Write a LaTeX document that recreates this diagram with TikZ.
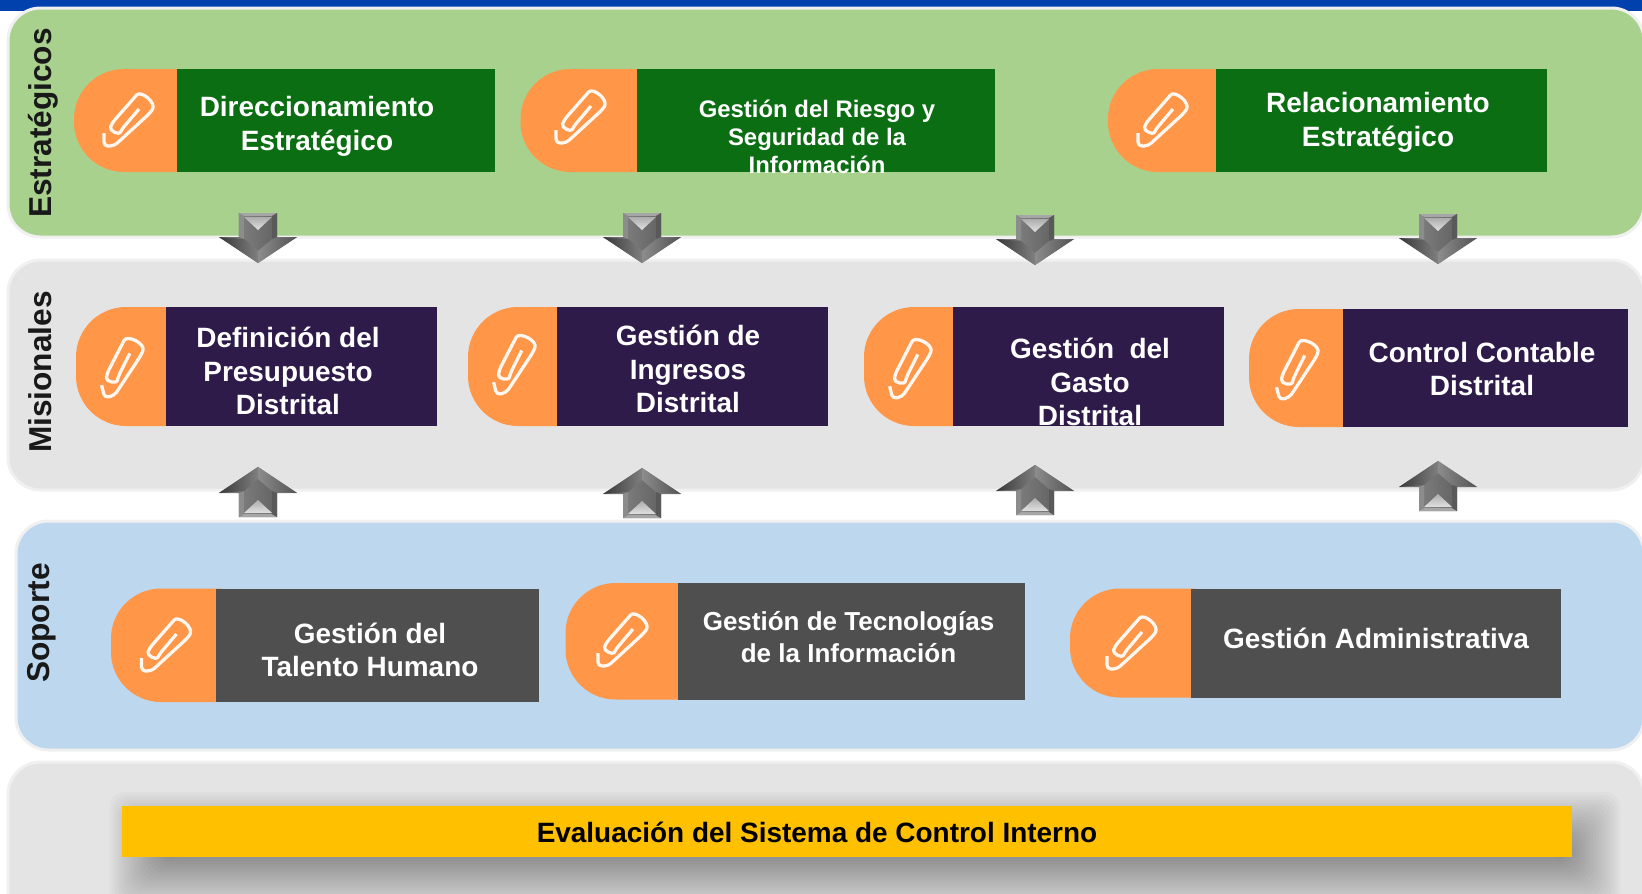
\documentclass[tikz,border=0pt]{standalone}
\usepackage{fontspec}
\setmainfont{Liberation Sans}
\usepackage{tikz}
\usetikzlibrary{positioning}
\definecolor{verdeP}{HTML}{A9D18E}
\definecolor{grisP}{HTML}{E4E4E4}
\definecolor{azulP}{HTML}{BDD7EE}
\definecolor{naranja}{HTML}{FF9648}
\definecolor{verdeC}{HTML}{0B6E12}
\definecolor{moradoC}{HTML}{2E1B4A}
\definecolor{grisC}{HTML}{4F4F4F}
\definecolor{amarillo}{HTML}{FFC000}
\definecolor{azulB}{HTML}{0041AE}
\tikzstyle{panel}=[draw=black!6, line width=0.6mm, rounded corners=0.65cm]
\tikzstyle{pill}=[rectangle, rounded corners=1cm, fill=naranja, inner sep=0pt]
\tikzstyle{box1}=[rectangle, fill=verdeC, inner sep=0pt]
\tikzstyle{box2}=[rectangle, fill=moradoC, inner sep=0pt]
\tikzstyle{box3}=[rectangle, fill=grisC, inner sep=0pt]
\tikzstyle{box4}=[rectangle, fill=amarillo, inner sep=0pt]
\tikzstyle{txt}=[text=white, align=center, inner sep=0pt, font=\bfseries\fontsize{15.9}{19.2}\selectfont]
\tikzstyle{side}=[rotate=90, text=black!90, inner sep=0pt, font=\bfseries\fontsize{18}{20}\selectfont]
\tikzset{
  clip icon/.pic={
    \draw[white!92!naranja, line width=0.65mm, line join=round, x=0.02cm, y=0.02cm, rounded corners=0.08cm]
      (-23,-12) -- (-23,-25) -- (-13,-25) -- (23,8)
      .. controls (30,18) and (14,31) .. (7,23)
      -- (-15,-2) .. controls (-18,-10) and (-8,-14) .. (-5,-8) -- (12,12);
  },
  block arrow/.pic={
    \begin{scope}[x=0.02cm, y=0.02cm]
    \fill[black!55] (-19,0) -- (19,0) -- (19,-24) -- (39,-24) -- (0,-50) -- (-39,-24) -- (-19,-24) -- cycle;
    \shade[left color=black!52, middle color=black!22, right color=black!60]
      (-14,-3) -- (14,-3) -- (14,-26) -- (0,-38) -- (-14,-26) -- cycle;
    \fill[black!35] (-19,0) -- (19,0) -- (14,-3) -- (-14,-3) -- cycle;
    \shade[top color=black!32, bottom color=black!12] (-14,-4) -- (14,-4) -- (0,-17) -- cycle;
    \fill[black!45] (-19,0) -- (-14,-3) -- (-14,-26) -- (-19,-24) -- cycle;
    \fill[black!65] (19,0) -- (14,-3) -- (14,-26) -- (19,-24) -- cycle;
    \shade[left color=black!78, right color=black!50] (-39,-24) -- (-14,-26) -- (0,-38) -- (0,-50) -- cycle;
    \shade[left color=black!45, right color=black!68] (39,-24) -- (14,-26) -- (0,-38) -- (0,-50) -- cycle;
    \end{scope}
  }
}
\begin{document}
\begin{tikzpicture}
\useasboundingbox (0,0) rectangle (32.84,-17.86);
\clip (0,0) rectangle (32.84,-17.86);
%Panels
\fill[azulB] (0,0) rectangle (32.84,-0.22);
\shade[left color=azulB, middle color=azulB!45!black, right color=azulB] (29.9,0) rectangle (31,-0.14);
\draw[panel, fill=verdeP] (0.16,-0.16) rectangle (32.88,-4.74);
\draw[panel, fill=grisP] (0.16,-5.2) rectangle (32.88,-9.8);
\draw[panel, fill=azulP] (0.32,-10.42) rectangle (32.88,-15);
\draw[panel, fill=grisP] (0.16,-15.24) rectangle (32.88,-18.6);
%Shadow
\foreach \i in {0,...,23}
  \fill[black, opacity=0.021, rounded corners=0.3cm] (2.85-0.66+\i*0.055,-16.5+0.66-\i*0.055) rectangle (31.75+0.66-\i*0.055,-17.55-0.66+\i*0.055);
%Row One
\node[side] (lab1) at (0.87,-2.46) {Estratégicos};
\node[pill, minimum width=3.06cm, minimum height=2.06cm] (p1) at (3.01,-2.41) {};
\node[box1, minimum width=6.36cm, minimum height=2.06cm] (b1) at (6.72,-2.41) {};
\node[txt] (t1) at (6.34,-2.52) {Direccionamiento\\Estratégico};
\pic at (2.54,-2.42) {clip icon};
\node[pill, minimum width=3.33cm, minimum height=2.06cm] (p2) at (12.075,-2.41) {};
\node[box1, minimum width=7.16cm, minimum height=2.06cm] (b2) at (16.32,-2.41) {};
\node[txt, font=\bfseries\fontsize{13.6}{16}\selectfont] (t2) at (16.34,-2.74) {Gestión del Riesgo y\\Seguridad de la\\Información};
\pic at (11.58,-2.36) {clip icon};
\node[pill, minimum width=3.16cm, minimum height=2.06cm] (p3) at (23.74,-2.41) {};
\node[box1, minimum width=6.62cm, minimum height=2.06cm] (b3) at (27.63,-2.41) {};
\node[txt] (t3) at (27.56,-2.44) {Relacionamiento\\Estratégico};
\pic at (23.22,-2.42) {clip icon};
%Row Two
\node[side] (lab2) at (0.81,-7.44) {Misionales};
\node[pill, minimum width=2.79cm, minimum height=2.38cm] (p4) at (2.915,-7.33) {};
\node[box2, minimum width=5.43cm, minimum height=2.38cm] (b4) at (6.025,-7.33) {};
\node[txt] (t4) at (5.76,-7.42) {Definición del\\Presupuesto\\Distrital};
\pic[rotate=14] at (2.42,-7.36) {clip icon};
\node[pill, minimum width=2.78cm, minimum height=2.38cm] (p5) at (10.75,-7.33) {};
\node[box2, minimum width=5.42cm, minimum height=2.38cm] (b5) at (13.85,-7.33) {};
\node[txt] (t5) at (13.76,-7.38) {Gestión de\\Ingresos\\Distrital};
\pic[rotate=14] at (10.26,-7.3) {clip icon};
\node[pill, minimum width=2.78cm, minimum height=2.38cm] (p6) at (18.67,-7.33) {};
\node[box2, minimum width=5.42cm, minimum height=2.38cm] (b6) at (21.77,-7.33) {};
\node[txt] (t6) at (21.8,-7.64) {Gestión\ \ del\\Gasto\\Distrital};
\pic[rotate=14] at (18.18,-7.38) {clip icon};
\node[pill, minimum width=2.87cm, minimum height=2.36cm] (p7) at (26.415,-7.36) {};
\node[box2, minimum width=5.71cm, minimum height=2.36cm] (b7) at (29.705,-7.36) {};
\node[txt] (t7) at (29.64,-7.38) {Control Contable\\Distrital};
\pic[rotate=14] at (25.92,-7.4) {clip icon};
%Row Three
\node[side] (lab3) at (0.84,-12.46) {Soporte};
\node[pill, minimum width=3.1cm, minimum height=2.27cm] (p8) at (3.77,-12.905) {};
\node[box3, minimum width=6.46cm, minimum height=2.27cm] (b8) at (7.55,-12.905) {};
\node[txt] (t8) at (7.4,-13) {Gestión del\\Talento Humano};
\pic at (3.29,-12.92) {clip icon};
\node[pill, minimum width=3.24cm, minimum height=2.33cm] (p9) at (12.93,-12.825) {};
\node[box3, minimum width=6.95cm, minimum height=2.33cm] (b9) at (17.025,-12.825) {};
\node[txt, font=\bfseries\fontsize{14.8}{17.8}\selectfont] (t9) at (16.97,-12.74) {Gestión de Tecnologías\\de la Información};
\pic at (12.42,-12.82) {clip icon};
\node[pill, minimum width=3.42cm, minimum height=2.18cm] (p10) at (23.11,-12.86) {};
\node[box3, minimum width=7.4cm, minimum height=2.18cm] (b10) at (27.52,-12.86) {};
\node[txt] (t10) at (27.52,-12.76) {Gestión Administrativa};
\pic at (22.6,-12.88) {clip icon};
%Bottom bar
\node[box4, minimum width=29cm, minimum height=1.02cm] (b11) at (16.93,-16.62) {};
\node[txt, text=black] (t11) at (16.34,-16.65) {Evaluación del Sistema de Control Interno};
%Arrows
\pic (ad1) at (5.16,-4.26) {block arrow};
\pic (ad2) at (12.84,-4.26) {block arrow};
\pic (ad3) at (20.7,-4.3) {block arrow};
\pic (ad4) at (28.76,-4.28) {block arrow};
\pic[yscale=-1] (au1) at (5.16,-10.34) {block arrow};
\pic[yscale=-1] (au2) at (12.84,-10.36) {block arrow};
\pic[yscale=-1] (au3) at (20.7,-10.3) {block arrow};
\pic[yscale=-1] (au4) at (28.76,-10.22) {block arrow};
\end{tikzpicture}
\end{document}
